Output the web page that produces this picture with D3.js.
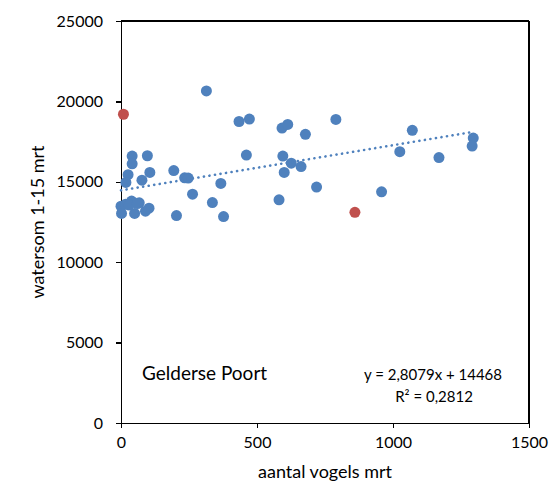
<!DOCTYPE html>
<meta charset="utf-8">
<style>
body { margin: 0; background: #fff; }
text { font-family: Lato, "Open Sans", sans-serif; fill: #000; }
.axis path, .axis line { stroke: #000; stroke-width: 1.3; shape-rendering: crispEdges; }
.axis text { font-size: 16px; }
</style>
<body>
<script src="https://cdnjs.cloudflare.com/ajax/libs/d3/7.8.5/d3.min.js"></script>
<script>

var width = 551,
    height = 482;

var margin = {top: 21, right: 22, bottom: 59, left: 121};

// aantal vogels (x) en watersom (y)
var vogels   = [314, 434, 472, 790, 592, 613, 678, 1071, 1295, 1291, 1025, 1169, 461, 595, 626, 662, 600, 719, 958, 581,
                367, 336, 377, 263, 204, 194, 234, 247, 41, 41, 97, 106, 26, 18, 77,
                0, 2, 39, 67, 50, 90, 103, 17, 30, 60];
var watersom = [20650, 18750, 18900, 18880, 18340, 18570, 17950, 18200, 17720, 17220, 16870, 16510, 16660, 16600, 16160, 15950, 15580, 14670, 14380, 13880,
                14900, 13710, 12840, 14230, 12900, 15700, 15250, 15230, 16600, 16120, 16620, 15580, 15440, 14960, 15100,
                13480, 13030, 13800, 13690, 13030, 13170, 13360, 13610, 13550, 13650];

// afwijkende punten (rood)
var outVogels   = [9, 860];
var outWatersom = [19200, 13100];

var xTicks = [0, 500, 1000, 1500];
var yTicks = [0, 5000, 10000, 15000, 20000, 25000];

var slope = 2.8079, intercept = 14468;

var svg = d3.select("body").append("svg")
    .attr("width", width)
    .attr("height", height);

var w = width - margin.left - margin.right,
    h = height - margin.top - margin.bottom;

var g = svg.append("g")
    .attr("transform", "translate(" + margin.left + "," + margin.top + ")");

var x = d3.scaleLinear().domain([0, 1500]).range([0, w]);
var y = d3.scaleLinear().domain([0, 25000]).range([h, 0]);

// kader boven en rechts
g.append("line").attr("x1", 0).attr("x2", w).attr("y1", 0).attr("y2", 0)
    .attr("stroke", "#000").attr("stroke-width", 1.3).style("shape-rendering", "crispEdges");
g.append("line").attr("x1", w).attr("x2", w).attr("y1", 0).attr("y2", h)
    .attr("stroke", "#000").attr("stroke-width", 1.3).style("shape-rendering", "crispEdges");

g.append("g")
    .attr("class", "axis")
    .attr("transform", "translate(0," + h + ")")
    .call(d3.axisBottom(x).tickValues(xTicks).tickFormat(d3.format("d"))
        .tickSize(5).tickSizeOuter(0).tickPadding(9));

g.append("g")
    .attr("class", "axis")
    .call(d3.axisLeft(y).tickValues(yTicks).tickFormat(d3.format("d"))
        .tickSize(5).tickSizeOuter(0).tickPadding(13));

var pts = vogels.map(function(v, i) { return {x: v, y: watersom[i]}; });
var outs = outVogels.map(function(v, i) { return {x: v, y: outWatersom[i]}; });

g.selectAll(".dot")
    .data(pts)
    .enter().append("circle")
    .attr("class", "dot")
    .attr("cx", function(d) { return x(d.x); })
    .attr("cy", function(d) { return y(d.y); })
    .attr("r", 5.5)
    .attr("fill", "#4F81BD");

g.selectAll(".out")
    .data(outs)
    .enter().append("circle")
    .attr("class", "out")
    .attr("cx", function(d) { return x(d.x); })
    .attr("cy", function(d) { return y(d.y); })
    .attr("r", 5.5)
    .attr("fill", "#C0504D");

// trendlijn over het bereik van de data
var all = pts.concat(outs);
var xr = d3.extent(all, function(d) { return d.x; });

g.append("line")
    .attr("x1", x(xr[0])).attr("y1", y(slope * xr[0] + intercept))
    .attr("x2", x(xr[1])).attr("y2", y(slope * xr[1] + intercept))
    .attr("stroke", "#4F81BD")
    .attr("stroke-width", 2.6)
    .attr("stroke-linecap", "round")
    .attr("stroke-dasharray", "0.1 5.5");

g.append("text")
    .attr("x", 21).attr("y", 359)
    .style("font-size", "19px")
    .text("Gelderse Poort");

g.append("text")
    .attr("x", 312).attr("y", 359)
    .attr("text-anchor", "middle")
    .style("font-size", "15px")
    .text("y = 2,8079x + 14468");

g.append("text")
    .attr("x", 313).attr("y", 381)
    .attr("text-anchor", "middle")
    .style("font-size", "15px")
    .text("R² = 0,2812");

svg.append("text")
    .attr("transform", "translate(44," + (margin.top + h / 2) + ") rotate(-90)")
    .attr("text-anchor", "middle")
    .style("font-size", "18px")
    .text("watersom 1-15 mrt");

svg.append("text")
    .attr("x", margin.left + w / 2)
    .attr("y", 478)
    .attr("text-anchor", "middle")
    .style("font-size", "18px")
    .text("aantal vogels mrt");

</script>
</body>
